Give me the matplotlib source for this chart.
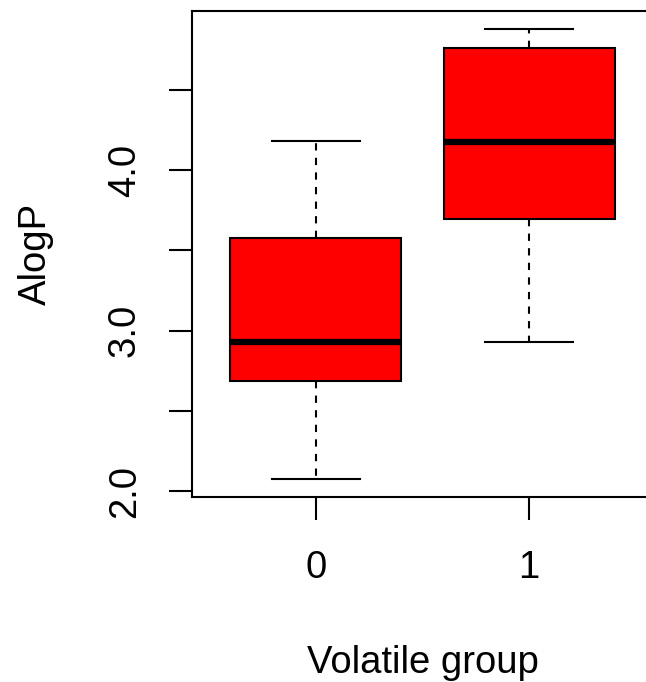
import matplotlib
matplotlib.use("Agg")
import matplotlib.pyplot as plt

# box statistics
groups = ["0", "1"]
whislo = [2.075, 2.93]
q1 = [2.685, 3.695]
med = [2.93, 4.175]
q3 = [3.58, 4.76]
whishi = [4.18, 4.88]

yticks = [2.0, 2.5, 3.0, 3.5, 4.0, 4.5]
ylabels = ["2.0", "", "3.0", "", "4.0", ""]

plt.rcParams['font.family'] = ['Liberation Sans', 'DejaVu Sans']

stats = []
for i, g in enumerate(groups):
    stats.append({'label': g, 'whislo': whislo[i], 'q1': q1[i], 'med': med[i],
                  'q3': q3[i], 'whishi': whishi[i], 'fliers': []})

fig = plt.figure(figsize=(6.46, 6.82), dpi=100)
ax = fig.add_axes([0.2972, 0.2713, 0.7135, 0.7126])

ax.bxp(stats, positions=[1, 2], widths=0.8, patch_artist=True, showfliers=False,
       boxprops=dict(facecolor='#ff0000', edgecolor='black', linewidth=1.5),
       medianprops=dict(color='black', linewidth=4.5, solid_capstyle='butt'),
       whiskerprops=dict(color='black', linewidth=1.5, linestyle=(0, (3.5, 3.5))),
       capprops=dict(color='black', linewidth=1.5), capwidths=0.41)

ax.set_xlim(0.42, 2.58)
ax.set_ylim(1.963, 4.992)
ax.set_yticks(yticks)
ax.set_yticklabels(ylabels, rotation=90, va='center')
ax.tick_params(axis='both', length=16.5, width=1.5, labelsize=27.5)
ax.tick_params(axis='x', pad=22)
ax.tick_params(axis='y', pad=19)
for s in ax.spines.values():
    s.set_linewidth(1.5)

ax.set_xlabel("Volatile group", fontsize=27.5, labelpad=42)
ax.set_ylabel("AlogP", fontsize=27.5, labelpad=38)

fig.savefig("out.png", dpi=100)
